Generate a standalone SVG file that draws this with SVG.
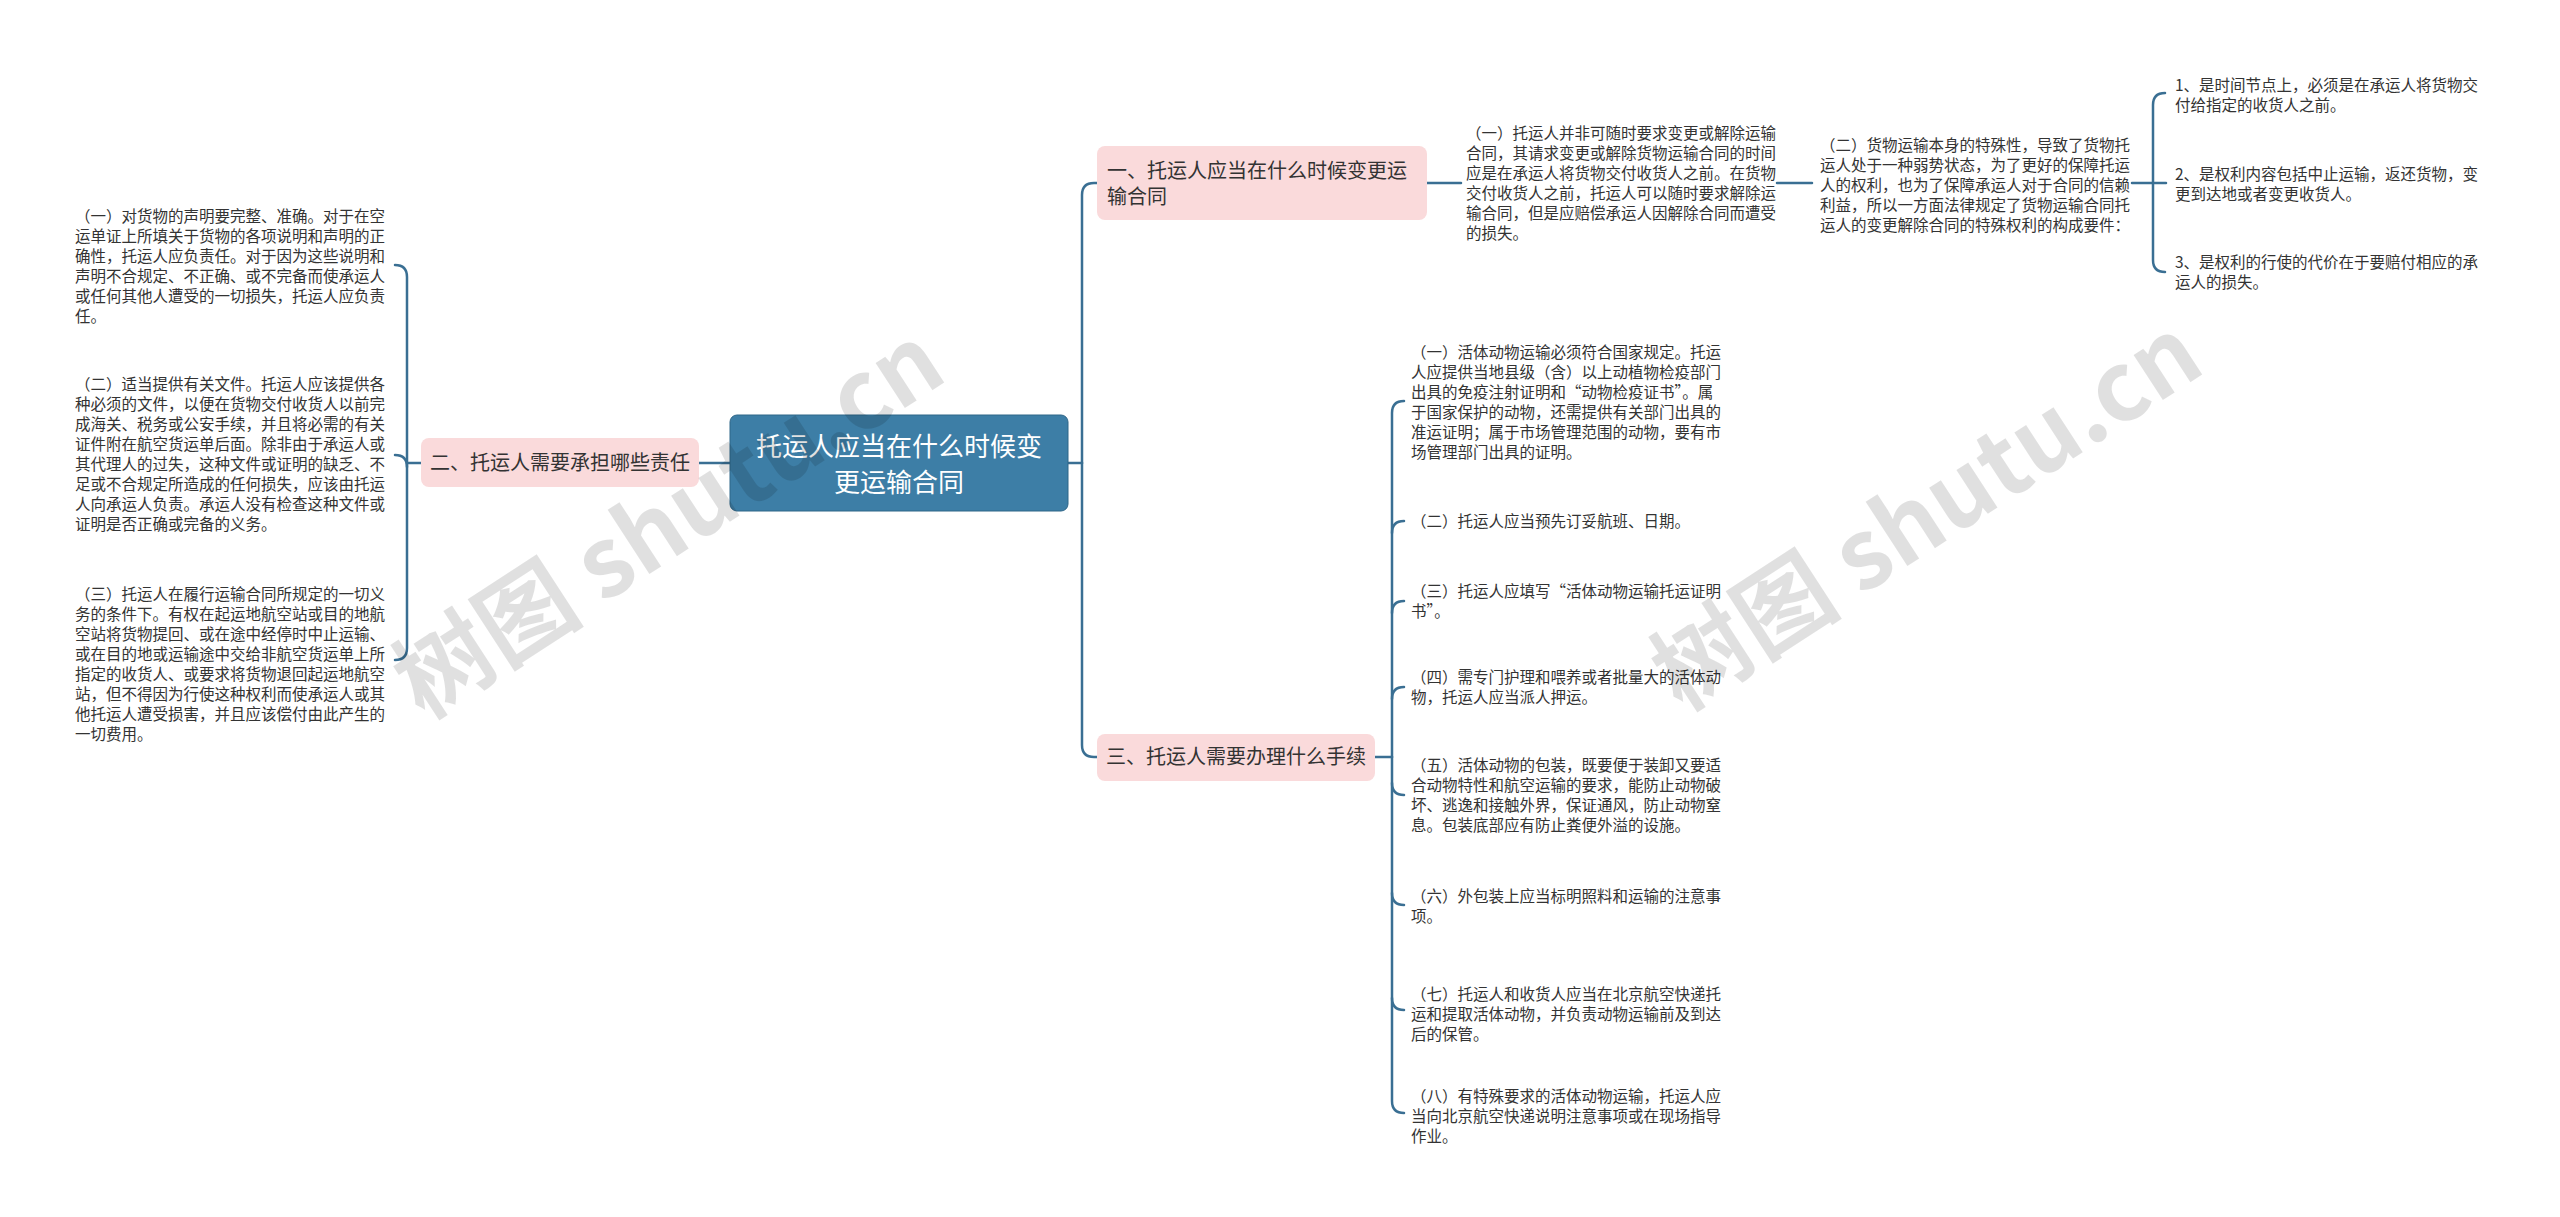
<svg xmlns="http://www.w3.org/2000/svg" width="2560" height="1217" viewBox="0 0 2560 1217">
<style>
.bg{fill:#ffffff}
.t{font-family:"Noto Sans CJK SC","Noto Sans",sans-serif;font-size:15.5px;fill:#333333}
.b{font-family:"Noto Sans CJK SC","Noto Sans",sans-serif;font-size:20px;fill:#333333}
.r{font-family:"Noto Sans CJK SC","Noto Sans",sans-serif;font-size:26px;fill:#ffffff}
.box{fill:#fadadb;stroke:none}
.root{fill:#3d7ea6;stroke:#2f6688;stroke-width:1}
.c{fill:none;stroke:#3a6f93;stroke-width:2.5;stroke-linecap:round}
.wm{font-family:"Noto Sans CJK SC","DejaVu Sans",sans-serif;font-size:96px;font-weight:bold;fill:#000000;fill-opacity:0.12}
</style>
<rect class="bg" x="0" y="0" width="2560" height="1217"/>

<g id="connectors">
  <path class="c" d="M1068,463 H1082"/>
  <path class="c" d="M1082,463 V195 Q1082,183 1094,183 H1097"/>
  <path class="c" d="M1082,463 V745 Q1082,757 1094,757 H1097"/>
  <path class="c" d="M730,463 H699"/>
  <path class="c" d="M421,463 H407"/>
  <path class="c" d="M407,463 V277 Q407,265 395,265"/>
  <path class="c" d="M407,463 V648 Q407,660 395,660"/>
  <path class="c" d="M407,467 Q407,455 395,455"/>
  <path class="c" d="M1427,183 H1461"/>
  <path class="c" d="M1777,183 H1812"/>
  <path class="c" d="M2132,183 H2153"/>
  <path class="c" d="M2153,183 V105 Q2153,93 2165,93"/>
  <path class="c" d="M2153,183 V260 Q2153,272 2165,272"/>
  <path class="c" d="M2153,183 H2166"/>
  <path class="c" d="M1375,757 H1392"/>
  <path class="c" d="M1392,757 V413 Q1392,401 1404,401"/>
  <path class="c" d="M1392,533 Q1392,521 1404,521"/>
  <path class="c" d="M1392,613 Q1392,601 1404,601"/>
  <path class="c" d="M1392,699 Q1392,687 1404,687"/>
  <path class="c" d="M1392,757 V1101 Q1392,1113 1404,1113"/>
  <path class="c" d="M1392,783 Q1392,795 1404,795"/>
  <path class="c" d="M1392,893 Q1392,905 1404,905"/>
  <path class="c" d="M1392,998 Q1392,1010 1404,1010"/>
</g>

<g id="root">
  <rect class="root" x="730" y="415" width="338" height="96" rx="7"/>
  <text class="r" x="899" y="456" text-anchor="middle">托运人应当在什么时候变</text>
  <text class="r" x="899" y="492" text-anchor="middle">更运输合同</text>
</g>

<g id="branch1">
  <rect class="box" x="1097" y="146" width="330" height="74" rx="8"/>
  <text class="b"><tspan x="1107" y="178">一、托运人应当在什么时候变更运</tspan><tspan x="1107" y="204">输合同</tspan></text>
</g>

<g id="branch2">
  <rect class="box" x="421" y="438" width="278" height="49" rx="8"/>
  <text class="b" x="560" y="470" text-anchor="middle">二、托运人需要承担哪些责任</text>
</g>

<g id="branch3">
  <rect class="box" x="1097" y="734" width="278" height="47" rx="8"/>
  <text class="b" x="1236" y="764" text-anchor="middle">三、托运人需要办理什么手续</text>
</g>

<g id="b1-item1">
  <text class="t"><tspan x="1466" y="139">（一）托运人并非可随时要求变更或解除运输</tspan><tspan x="1466" y="159">合同，其请求变更或解除货物运输合同的时间</tspan><tspan x="1466" y="179">应是在承运人将货物交付收货人之前。在货物</tspan><tspan x="1466" y="199">交付收货人之前，托运人可以随时要求解除运</tspan><tspan x="1466" y="219">输合同，但是应赔偿承运人因解除合同而遭受</tspan><tspan x="1466" y="239">的损失。</tspan></text>
</g>

<g id="b1-item2">
  <text class="t"><tspan x="1820" y="151">（二）货物运输本身的特殊性，导致了货物托</tspan><tspan x="1820" y="171">运人处于一种弱势状态，为了更好的保障托运</tspan><tspan x="1820" y="191">人的权利，也为了保障承运人对于合同的信赖</tspan><tspan x="1820" y="211">利益，所以一方面法律规定了货物运输合同托</tspan><tspan x="1820" y="231">运人的变更解除合同的特殊权利的构成要件：</tspan></text>
</g>

<g id="b1-sub1">
  <text class="t"><tspan x="2175" y="91">1、是时间节点上，必须是在承运人将货物交</tspan><tspan x="2175" y="111">付给指定的收货人之前。</tspan></text>
</g>
<g id="b1-sub2">
  <text class="t"><tspan x="2175" y="180">2、是权利内容包括中止运输，返还货物，变</tspan><tspan x="2175" y="200">更到达地或者变更收货人。</tspan></text>
</g>
<g id="b1-sub3">
  <text class="t"><tspan x="2175" y="268">3、是权利的行使的代价在于要赔付相应的承</tspan><tspan x="2175" y="288">运人的损失。</tspan></text>
</g>

<g id="b2-item1">
  <text class="t"><tspan x="75" y="222">（一）对货物的声明要完整、准确。对于在空</tspan><tspan x="75" y="242">运单证上所填关于货物的各项说明和声明的正</tspan><tspan x="75" y="262">确性，托运人应负责任。对于因为这些说明和</tspan><tspan x="75" y="282">声明不合规定、不正确、或不完备而使承运人</tspan><tspan x="75" y="302">或任何其他人遭受的一切损失，托运人应负责</tspan><tspan x="75" y="322">任。</tspan></text>
</g>
<g id="b2-item2">
  <text class="t"><tspan x="75" y="390">（二）适当提供有关文件。托运人应该提供各</tspan><tspan x="75" y="410">种必须的文件，以便在货物交付收货人以前完</tspan><tspan x="75" y="430">成海关、税务或公安手续，并且将必需的有关</tspan><tspan x="75" y="450">证件附在航空货运单后面。除非由于承运人或</tspan><tspan x="75" y="470">其代理人的过失，这种文件或证明的缺乏、不</tspan><tspan x="75" y="490">足或不合规定所造成的任何损失，应该由托运</tspan><tspan x="75" y="510">人向承运人负责。承运人没有检查这种文件或</tspan><tspan x="75" y="530">证明是否正确或完备的义务。</tspan></text>
</g>
<g id="b2-item3">
  <text class="t"><tspan x="75" y="600">（三）托运人在履行运输合同所规定的一切义</tspan><tspan x="75" y="620">务的条件下。有权在起运地航空站或目的地航</tspan><tspan x="75" y="640">空站将货物提回、或在途中经停时中止运输、</tspan><tspan x="75" y="660">或在目的地或运输途中交给非航空货运单上所</tspan><tspan x="75" y="680">指定的收货人、或要求将货物退回起运地航空</tspan><tspan x="75" y="700">站，但不得因为行使这种权利而使承运人或其</tspan><tspan x="75" y="720">他托运人遭受损害，并且应该偿付由此产生的</tspan><tspan x="75" y="740">一切费用。</tspan></text>
</g>

<g id="b3-item1">
  <text class="t"><tspan x="1411" y="358">（一）活体动物运输必须符合国家规定。托运</tspan><tspan x="1411" y="378">人应提供当地县级（含）以上动植物检疫部门</tspan><tspan x="1411" y="398">出具的免疫注射证明和“动物检疫证书”。属</tspan><tspan x="1411" y="418">于国家保护的动物，还需提供有关部门出具的</tspan><tspan x="1411" y="438">准运证明；属于市场管理范围的动物，要有市</tspan><tspan x="1411" y="458">场管理部门出具的证明。</tspan></text>
</g>
<g id="b3-item2">
  <text class="t"><tspan x="1411" y="527">（二）托运人应当预先订妥航班、日期。</tspan></text>
</g>
<g id="b3-item3">
  <text class="t"><tspan x="1411" y="597">（三）托运人应填写“活体动物运输托运证明</tspan><tspan x="1411" y="617">书”。</tspan></text>
</g>
<g id="b3-item4">
  <text class="t"><tspan x="1411" y="683">（四）需专门护理和喂养或者批量大的活体动</tspan><tspan x="1411" y="703">物，托运人应当派人押运。</tspan></text>
</g>
<g id="b3-item5">
  <text class="t"><tspan x="1411" y="771">（五）活体动物的包装，既要便于装卸又要适</tspan><tspan x="1411" y="791">合动物特性和航空运输的要求，能防止动物破</tspan><tspan x="1411" y="811">坏、逃逸和接触外界，保证通风，防止动物窒</tspan><tspan x="1411" y="831">息。包装底部应有防止粪便外溢的设施。</tspan></text>
</g>
<g id="b3-item6">
  <text class="t"><tspan x="1411" y="902">（六）外包装上应当标明照料和运输的注意事</tspan><tspan x="1411" y="922">项。</tspan></text>
</g>
<g id="b3-item7">
  <text class="t"><tspan x="1411" y="1000">（七）托运人和收货人应当在北京航空快递托</tspan><tspan x="1411" y="1020">运和提取活体动物，并负责动物运输前及到达</tspan><tspan x="1411" y="1040">后的保管。</tspan></text>
</g>
<g id="b3-item8">
  <text class="t"><tspan x="1411" y="1102">（八）有特殊要求的活体动物运输，托运人应</tspan><tspan x="1411" y="1122">当向北京航空快递说明注意事项或在现场指导</tspan><tspan x="1411" y="1142">作业。</tspan></text>
</g>

<g id="watermarks">
  <text class="wm" x="669" y="555" text-anchor="middle" transform="rotate(-33 669 522)">树图 shutu.cn</text>
  <text class="wm" x="1927" y="547" text-anchor="middle" transform="rotate(-33 1927 514)">树图 shutu.cn</text>
</g>
</svg>
